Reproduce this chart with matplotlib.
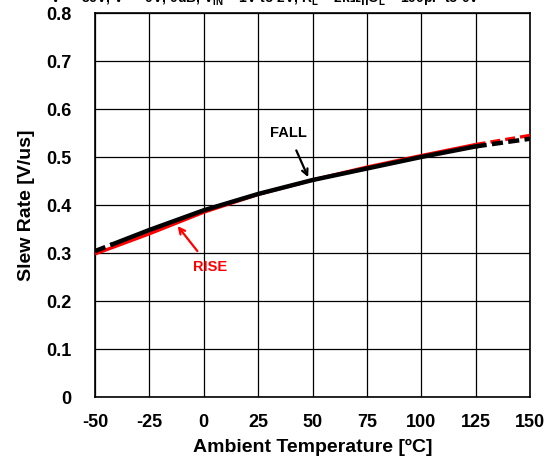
import matplotlib
matplotlib.use("Agg")
import matplotlib.pyplot as plt

plt.rcParams["font.family"] = ["Liberation Sans", "DejaVu Sans"]
plt.rcParams["font.weight"] = "bold"
plt.rcParams["axes.unicode_minus"] = False
plt.rcParams["mathtext.default"] = "regular"

# data
temp = [-50, -25, 0, 25, 50, 75, 100, 125, 150]
rise = [0.298, 0.340, 0.385, 0.422, 0.452, 0.479, 0.503, 0.526, 0.545]
fall = [0.304, 0.348, 0.389, 0.423, 0.452, 0.476, 0.500, 0.522, 0.538]

xticks = [-50, -25, 0, 25, 50, 75, 100, 125, 150]
yticks = [0, 0.1, 0.2, 0.3, 0.4, 0.5, 0.6, 0.7, 0.8]
ytick_labels = ["0", "0.1", "0.2", "0.3", "0.4", "0.5", "0.6", "0.7", "0.8"]

fig = plt.figure(figsize=(5.53, 4.63), dpi=100)
ax = fig.add_axes([95 / 553, 1 - 397 / 463, 435 / 553, 384 / 463])

# red: solid up to 125, dashed beyond
ax.plot(temp[:8], rise[:8], color="#ff0000", lw=2.4, solid_capstyle="butt", zorder=3)
ax.plot(temp[7:], rise[7:], color="#ff0000", lw=2.4, ls=(0, (3, 1.5)), zorder=3)

# black: dashed at both ends
seg_l = -42
fl = fall[0] + (fall[1] - fall[0]) * (seg_l - temp[0]) / (temp[1] - temp[0])
ax.plot([temp[0], seg_l], [fall[0], fl], color="black", lw=3.2, ls=(0, (2.5, 1.2)), zorder=4)
ax.plot([seg_l] + temp[1:8], [fl] + fall[1:8], color="black", lw=3.2, zorder=4)
ax.plot(temp[7:], fall[7:], color="black", lw=3.2, ls=(0, (2.5, 1.2)), zorder=4)

ax.set_xlim(-50, 150)
ax.set_ylim(0, 0.8)
ax.set_xticks(xticks)
ax.set_yticks(yticks)
ax.set_yticklabels(ytick_labels)
ax.tick_params(axis="x", length=0, labelsize=13, pad=12)
ax.tick_params(axis="y", length=0, labelsize=13, pad=17)
for lab in ax.get_xticklabels() + ax.get_yticklabels():
    lab.set_fontweight("bold")
ax.grid(True, color="black", lw=0.9)
for s in ax.spines.values():
    s.set_linewidth(1.2)

ax.set_xlabel("Ambient Temperature [ºC]", fontsize=14, fontweight="bold", labelpad=6)
ax.set_ylabel("Slew Rate [V/us]", fontsize=14, fontweight="bold", labelpad=8)

ax.annotate("FALL", xy=(48, 0.458), xytext=(39, 0.55), fontsize=10.5, fontweight="bold",
            ha="center", va="center", color="black",
            arrowprops=dict(arrowstyle="->", color="black", lw=1.6, shrinkA=6, shrinkB=0))
ax.annotate("RISE", xy=(-12, 0.356), xytext=(3, 0.27), fontsize=10.5, fontweight="bold",
            ha="center", va="center", color="#ff0000",
            arrowprops=dict(arrowstyle="->", color="#ff0000", lw=1.6, shrinkA=6, shrinkB=0))

fig.text(265 / 553, 1 + 1.5 / 463,
         r"V$^{+}$ = 36V, V$^{-}$ = 0V, 0dB, V$_{IN}$ = 1V to 2V, R$_{L}$ = 2k$\Omega$||C$_{L}$ = 100pF to 0V",
         fontsize=10, fontweight="bold", ha="center", va="center")

fig.savefig("out.png", dpi=100)
